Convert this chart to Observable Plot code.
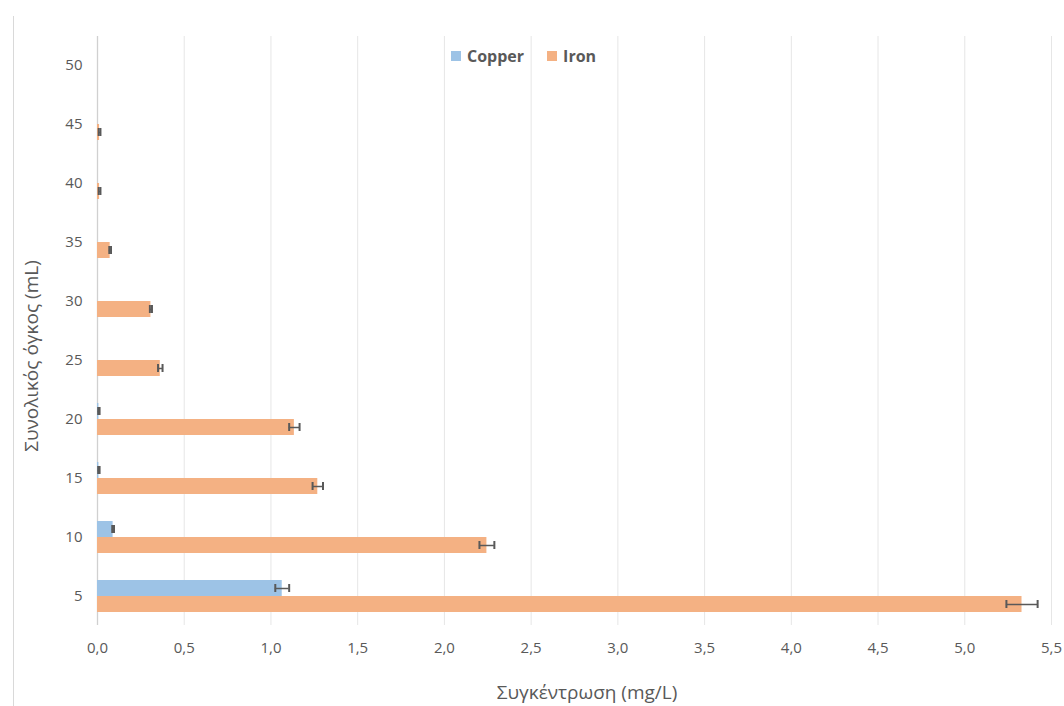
<!DOCTYPE html>
<html>
<head>
<meta charset="utf-8">
<script src="https://cdn.jsdelivr.net/npm/d3@7"></script>
<script src="https://cdn.jsdelivr.net/npm/@observablehq/plot@0.6"></script>
<style>
  html, body { margin: 0; padding: 0; background: #fff; }
  #wrap { position: relative; width: 1064px; height: 706px; font-family: "Open Sans", sans-serif; }
  #border { position: absolute; left: 13px; top: 16px; width: 1px; height: 690px; background: #d9d9d9; }
  #legend { position: absolute; top: 45px; left: 451px; display: flex; align-items: center; font-weight: bold; font-size: 16px; color: #595959; }
  #legend .sw { width: 10px; height: 10px; display: inline-block; margin-right: 6px; }
  #legend .item { display: flex; align-items: center; margin-right: 23px; }
  .axtitle { position: absolute; font-size: 19px; color: #595959; white-space: nowrap; line-height: 1; }
  #xtitle { left: 587px; top: 692px; transform: translate(-50%, -50%); }
  #ytitle { left: 31px; top: 356px; transform: translate(-50%, -50%) rotate(-90deg); }
</style>
</head>
<body>
<div id="wrap">
  <div id="border"></div>
  <div id="chart"></div>
  <div id="legend"></div>
  <div class="axtitle" id="xtitle"></div>
  <div class="axtitle" id="ytitle"></div>
</div>
<script>
// Total volume (mL) categories
const categories = [5, 10, 15, 20, 25, 30, 35, 40, 45, 50];
// Concentration (mg/L)
const copper    = [1.065, 0.090, 0.008, 0.008, 0, 0, 0, 0, 0, 0];
const copperErr = [0.040, 0.005, 0.004, 0.004, 0, 0, 0, 0, 0, 0];
const iron      = [5.33, 2.245, 1.27, 1.135, 0.362, 0.308, 0.073, 0.012, 0.012, 0];
const ironErr   = [0.09, 0.043, 0.03, 0.03, 0.013, 0.006, 0.005, 0.005, 0.005, 0];
const xTicks = [0, 0.5, 1, 1.5, 2, 2.5, 3, 3.5, 4, 4.5, 5, 5.5];
const seriesNames = ["Copper", "Iron"];
const seriesColors = ["#9DC3E6", "#F4B183"];
const xTitle = "Συγκέντρωση (mg/L)";
const yTitle = "Συνολικός όγκος (mL)";

const cu = categories.map((c, i) => ({cat: c, v: copper[i], e: copperErr[i]}));
const fe = categories.map((c, i) => ({cat: c, v: iron[i], e: ironErr[i]}));
const cuErr = cu.filter(d => d.e > 0);
const feErr = fe.filter(d => d.e > 0);

const fmt = d => d.toFixed(1).replace(".", ",");
const errColor = "#595959";
const half = 16;

const chart = Plot.plot({
  width: 1064,
  height: 706,
  marginTop: 36,
  marginBottom: 81,
  marginLeft: 97,
  marginRight: 13,
  style: {fontFamily: "Open Sans, sans-serif", background: "transparent"},
  x: {domain: [0, 5.5]},
  y: {domain: [...categories].reverse(), paddingInner: 0.46, paddingOuter: 0.22},
  marks: [
    Plot.gridX(xTicks, {stroke: "#e6e6e6", strokeOpacity: 1, strokeWidth: 1}),
    Plot.ruleX([0], {stroke: "#d0d0d0", strokeWidth: 1.3}),
    Plot.barX(cu, {x: "v", y: "cat", fill: seriesColors[0], insetBottom: half, insetTop: 0}),
    Plot.barX(fe, {x: "v", y: "cat", fill: seriesColors[1], insetTop: half, insetBottom: 0}),
    // error bars
    Plot.ruleY(cuErr, {y: "cat", x1: d => d.v - d.e, x2: d => d.v + d.e, dy: -8, stroke: errColor, strokeWidth: 1.5}),
    Plot.tickX(cuErr, {x: d => d.v - d.e, y: "cat", insetTop: 4, insetBottom: 20, stroke: errColor, strokeWidth: 2}),
    Plot.tickX(cuErr, {x: d => d.v + d.e, y: "cat", insetTop: 4, insetBottom: 20, stroke: errColor, strokeWidth: 2}),
    Plot.ruleY(feErr, {y: "cat", x1: d => d.v - d.e, x2: d => d.v + d.e, dy: 8, stroke: errColor, strokeWidth: 1.5}),
    Plot.tickX(feErr, {x: d => d.v - d.e, y: "cat", insetTop: 20, insetBottom: 4, stroke: errColor, strokeWidth: 2}),
    Plot.tickX(feErr, {x: d => d.v + d.e, y: "cat", insetTop: 20, insetBottom: 4, stroke: errColor, strokeWidth: 2}),
    Plot.axisX({ticks: xTicks, tickFormat: fmt, tickSize: 0, tickPadding: 17, fontSize: 15, color: "#595959", label: null}),
    Plot.axisY({tickSize: 0, tickPadding: 15, fontSize: 15, color: "#595959", label: null})
  ]
});
document.getElementById("chart").appendChild(chart);

document.getElementById("xtitle").textContent = xTitle;
document.getElementById("ytitle").textContent = yTitle;

const legend = document.getElementById("legend");
seriesNames.forEach((n, i) => {
  const item = document.createElement("div");
  item.className = "item";
  const sw = document.createElement("span");
  sw.className = "sw";
  sw.style.background = seriesColors[i];
  item.appendChild(sw);
  item.appendChild(document.createTextNode(n));
  legend.appendChild(item);
});
</script>
</body>
</html>
